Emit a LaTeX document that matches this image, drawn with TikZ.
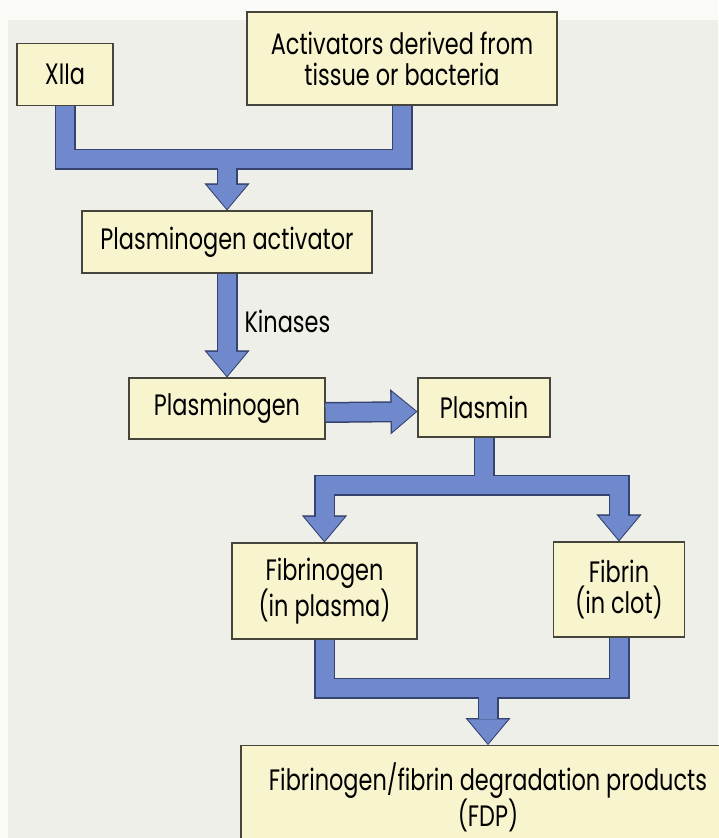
\documentclass[tikz,border=0pt]{standalone}
\usepackage{fontspec}
\setmainfont{Poppins}[FakeStretch=0.76]
\usetikzlibrary{arrows.meta}
\definecolor{bgwhite}{HTML}{FAFAF7}
\definecolor{bggrey}{HTML}{EFEFEA}
\definecolor{boxfill}{HTML}{F7F4CE}
\definecolor{boxline}{HTML}{45453C}
\definecolor{bandblue}{HTML}{7088CC}
\definecolor{bandline}{HTML}{34446E}

\begin{document}
\begin{tikzpicture}[x=1pt,y=-1pt,font=\fontsize{29.5}{31}\selectfont,
  box/.style={draw=boxline,fill=boxfill,line width=1.1pt,align=center,inner sep=0pt},
  bandedge/.style={draw=bandline,line width=21pt},
  bandfill/.style={draw=bandblue,line width=18pt},
  headedge/.style={-{Triangle[length=27pt,width=45pt,line width=.8pt]}},
  headfill/.style={shorten >=1.6pt,-{Triangle[length=24pt,width=40pt,line width=0pt]}}]
\fill[bgwhite] (0,0) rectangle (718,838);
\fill[bggrey] (8,20) rectangle (718,838);
\useasboundingbox (0,0) rectangle (718,838);
% boxes
\node[box,minimum width=96pt,minimum height=62pt] (xiia) at (65,74.5) {XIIa};
\node[box,minimum width=310pt,minimum height=93pt] (act) at (402,58.5) {Activators derived from\\tissue or bacteria};
\node[box,minimum width=290pt,minimum height=62pt] (pa) at (227,242) {Plasminogen activator};
\node[box,minimum width=196pt,minimum height=61pt] (pg) at (227,408.5) {Plasminogen};
\node[box,minimum width=132pt,minimum height=59pt] (plasmin) at (484,407.5) {Plasmin};
\node[box,minimum width=185pt,minimum height=96pt] (fgn) at (324.5,591) {Fibrinogen\\(in plasma)};
\node[box,minimum width=131pt,minimum height=95pt] (fbn) at (619,589.5) {Fibrin\\(in clot)};
\node[box,anchor=north,minimum width=494pt,minimum height=104pt] (fdp) at (488,745) {Fibrinogen/fibrin degradation products\\(FDP)};
\node[anchor=west] (kin) at (241,321) {Kinases};
% band joints
\coordinate (j1) at (227,159);
\coordinate (j2) at (484,485);
\coordinate (j3) at (488,688);
% bands: dark rim first, blue fill on top
\foreach \layer/\tip in {bandedge/headedge,bandfill/headfill}{
  \draw[\layer] (xiia.south) |- (j1) -| (act.south);
  \draw[\layer,\tip] (j1) -- (pa.north);
  \draw[\layer,\tip] (pa.south) -- (pg.north);
  \draw[\layer,\tip] ([yshift=-4pt]pg.east) -- ([yshift=-4pt]plasmin.west);
  \draw[\layer] (plasmin.south) -- (j2);
  \draw[\layer,\tip] (j2) -| (fgn.north);
  \draw[\layer,\tip] (j2) -| (fbn.north);
  \draw[\layer] (fgn.south) |- (j3) -| (fbn.south);
  \draw[\layer,\tip] (j3) -- (fdp.north);
}
\end{tikzpicture}
\end{document}
